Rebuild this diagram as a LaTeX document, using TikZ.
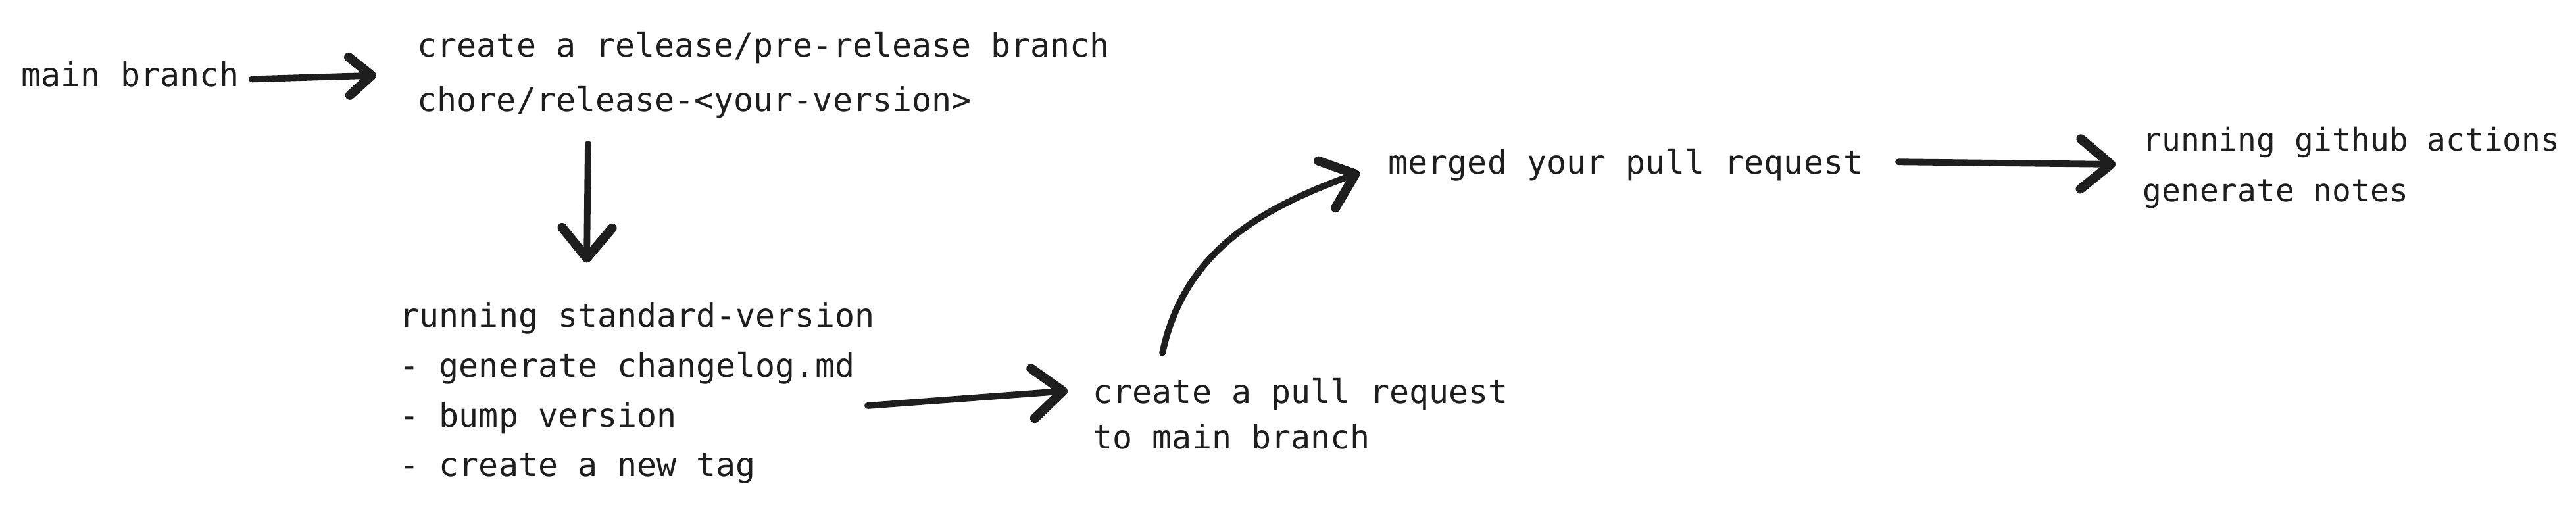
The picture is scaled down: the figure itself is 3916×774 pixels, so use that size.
\documentclass[tikz,border=0pt]{standalone}
\usepackage{fontspec}
\setmonofont{DejaVu Sans Mono}
\usepackage{tikz}
\usetikzlibrary{arrows.meta}
\definecolor{tinte}{HTML}{1E1E1E}
\tikzset{
  beschr/.style={font=\ttfamily\fontsize{14.2}{#1}\selectfont,tinte,inner sep=0pt,anchor=base west,align=left},
  beschr/.default=21.6pt,
  pfeil/.style={-{Straight Barb[length=4.6mm,width=7.6mm,line width=4pt,round]},tinte,line width=2.8pt,line cap=round},
  pfeilk/.style={pfeil,-{Straight Barb[length=3.4mm,width=5.8mm,line width=4pt,round]}},
}

\begin{document}
\begin{tikzpicture}[x=0.01cm,y=0.01cm]
  \useasboundingbox (0,0) rectangle (3916,-774);
  % ===== Texte (Grundlinie der letzten Zeile) =====
  \node[beschr] (haupt) at (32,-132) {main branch};
  \node[beschr=23.6pt] (zweig) at (634,-170) {create a release/pre-release branch\\chore/release-<your-version>};
  \node[beschr] (lauf) at (607,-725) {running standard-version\\- generate changelog.md\\- bump version\\- create a new tag};
  \node[beschr=19.9pt] (pr) at (1661,-683) {create a pull request\\to main branch};
  \node[beschr] (merge) at (2110,-265) {merged your pull request};
  \node[beschr,font=\ttfamily\fontsize{13.6}{21.9}\selectfont] (aktion) at (3257,-307) {running github actions\\generate notes};
  % ===== Pfeile =====
  \draw[pfeilk] ([shift={(19,-7)}]haupt.east) -- ([shift={(-62,0)}]zweig.west);
  \draw[pfeil] ([shift={(260,-38)}]zweig.south west) -- ([shift={(285,59)}]lauf.north west);
  \draw[pfeil] ([shift={(-11,-19.5)}]lauf.east) -- ([shift={(-38,35)}]pr.west);
  \draw[pfeil] ([shift={(106,37)}]pr.north west) to[out=78,in=200] ([shift={(-43,-11)}]merge.west);
  \draw[pfeil] ([shift={(53,5)}]merge.east) -- ([shift={(-41,5.5)}]aktion.west);
\end{tikzpicture}
\end{document}
